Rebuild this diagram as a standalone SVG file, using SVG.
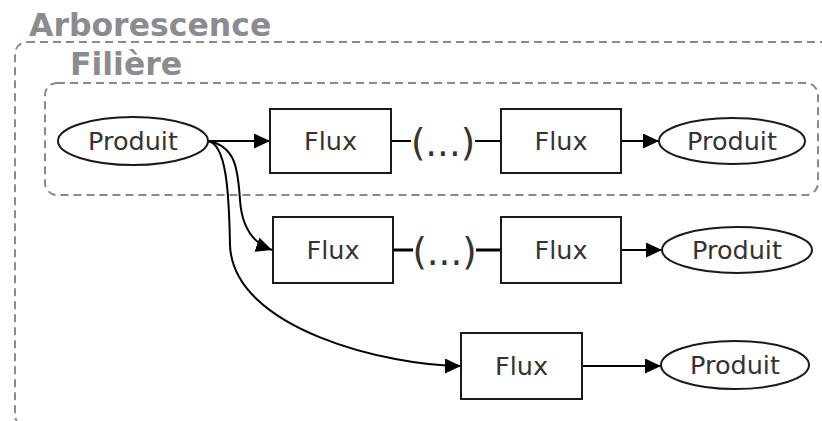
<svg xmlns="http://www.w3.org/2000/svg" width="822" height="421" viewBox="0 0 822 421">
<style>
.grp{fill:none;stroke:#8a8a8a;stroke-width:2;stroke-dasharray:8,5}
.title{font-family:"DejaVu Sans",Verdana,sans-serif;font-weight:bold;fill:#8c8c90;font-size:31.5px}
.box{fill:#fff;stroke:#1a1a1a;stroke-width:2}
.lbl{font-family:"DejaVu Sans",Verdana,sans-serif;font-size:25.5px;fill:#333;text-anchor:middle;dominant-baseline:central}
.par{font-family:"DejaVu Sans",Verdana,sans-serif;font-size:37px;fill:#333;text-anchor:middle;dominant-baseline:central}
.ln{fill:none;stroke:#000;stroke-width:2}
.arr{marker-end:url(#ah)}
</style>
<defs>
<marker id="ah" viewBox="0 0 16 15" refX="16" refY="7.5" markerWidth="16" markerHeight="15" markerUnits="userSpaceOnUse" orient="auto">
<path d="M0,0 L16,7.5 L0,15 Z" fill="#000"/>
</marker>
</defs>
<g id="arborescence">
<rect class="grp" x="15" y="42" width="822" height="385" rx="12"/>
<text class="title" x="29" y="36">Arborescence</text>
</g>
<g id="filiere">
<rect class="grp" x="45" y="83" width="773" height="112" rx="12"/>
<text class="title" x="70" y="75">Filière</text>
</g>
<g id="connectors">
<path class="ln arr" d="M208,141 L270,141"/>
<path class="ln" d="M391,141 L411,141 M475,141 L501,141"/>
<path class="ln arr" d="M621,141 L659,141"/>
<path class="ln arr" d="M208,141 C236,146 238,170 240,200 C242,230 255,244 272,250"/>
<path class="ln" style="stroke-width:3" d="M393,250 L413,250 M476,250 L501,250"/>
<path class="ln arr" d="M621,250 L662,250"/>
<path class="ln arr" d="M208,141 C226,144 229,190 230,245 C233,330 390,366 461,366"/>
<path class="ln arr" d="M582,366 L661,366"/>
</g>
<g id="p1"><ellipse class="box" cx="133" cy="141" rx="75" ry="24"/><text class="lbl" x="133" y="141">Produit</text></g>
<g id="f1"><rect class="box" x="270" y="109" width="121" height="64"/><text class="lbl" x="330.5" y="141">Flux</text></g>
<g id="e1"><text class="par" x="443" y="143">(...)</text></g>
<g id="f2"><rect class="box" x="501" y="109" width="120" height="64"/><text class="lbl" x="561" y="141">Flux</text></g>
<g id="p2"><ellipse class="box" cx="732" cy="141" rx="73" ry="23"/><text class="lbl" x="732" y="141">Produit</text></g>
<g id="f3"><rect class="box" x="273" y="217" width="120" height="66"/><text class="lbl" x="333" y="250">Flux</text></g>
<g id="e2"><text class="par" x="444.5" y="252">(...)</text></g>
<g id="f4"><rect class="box" x="501" y="217" width="120" height="66"/><text class="lbl" x="561" y="250">Flux</text></g>
<g id="p3"><ellipse class="box" cx="737" cy="250" rx="75" ry="23"/><text class="lbl" x="737" y="250">Produit</text></g>
<g id="f5"><rect class="box" x="461" y="333" width="121" height="66"/><text class="lbl" x="521.5" y="366">Flux</text></g>
<g id="p4"><ellipse class="box" cx="735" cy="365" rx="74" ry="24"/><text class="lbl" x="735" y="365">Produit</text></g>
</svg>
